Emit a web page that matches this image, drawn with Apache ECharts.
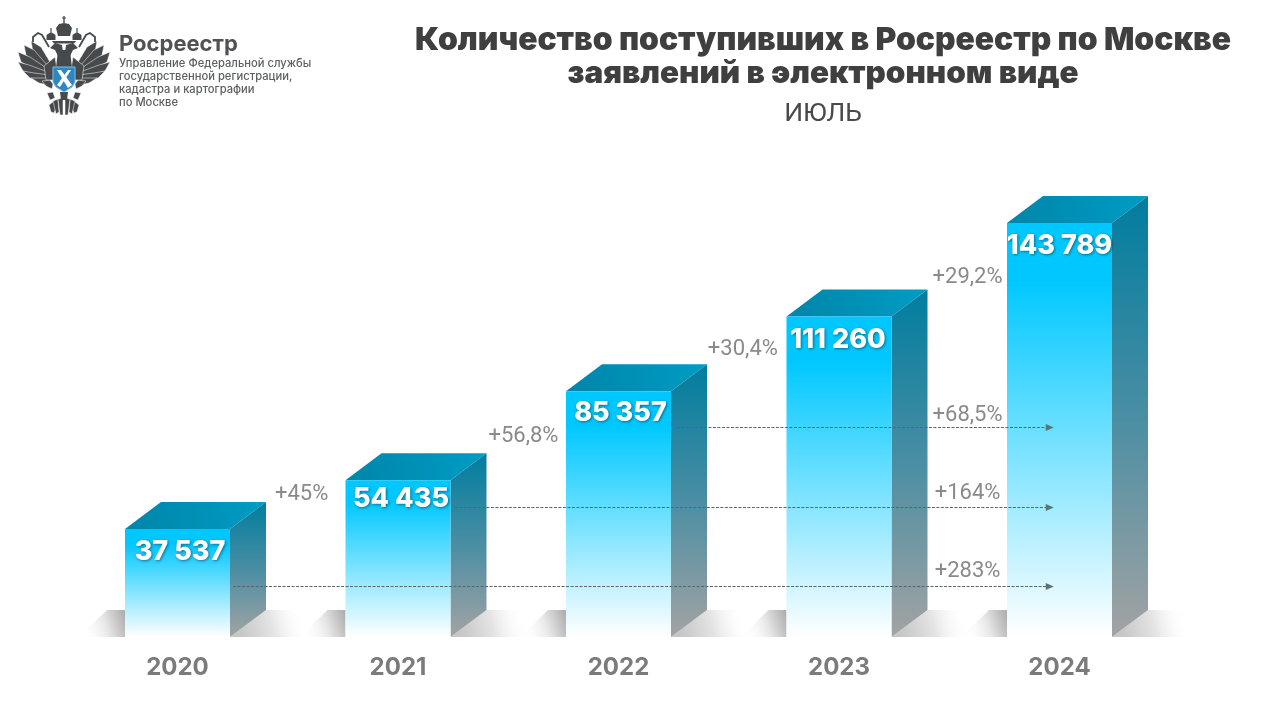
<!DOCTYPE html>
<html><head><meta charset="utf-8">
<style>html,body{margin:0;padding:0;background:#fff}#c{width:1280px;height:720px}</style>
<script src="https://cdn.jsdelivr.net/npm/echarts@6/dist/echarts.min.js"></script>
</head><body><div id="c"></div>
<script>
const years = ['2020','2021','2022','2023','2024'];
const requests = [37537, 54435, 85357, 111260, 143789];
const valueLabels = ['37 537','54 435','85 357','111 260','143 789'];
const growthX = [0.563, 1.569, 2.564, 3.583, 3.583, 3.583, 3.583];
const growthY = [49400, 69500, 99700, 124700, 77000, 49700, 22700];
const growthLabels = ['+45%','+56,8%','+30,4%','+29,2%','+68,5%','+164%','+283%'];
const arrowFrom = [0.252, 1.258, 2.265];
const arrowTo = [3.974, 3.974, 3.974];
const arrowLevel = [17700, 45100, 72900];

const BAR_W = 105, DX = 36, DY = 27;
const LABEL_SHIFT = [2.5, 3, 2, -1, 0];
const LABEL_DROP = [23, 19, 22, 23, 23];
const grad = (x, y, x2, y2, a, b, extra) => ({type:'linear',x,y,x2,y2,colorStops:[{offset:0,color:a}].concat(extra||[],[{offset:1,color:b}])});

function renderShadow(params, api){
  const c = api.coord([api.value(0), 0]);
  const l = c[0]-BAR_W/2, r = c[0]+BAR_W/2, y = c[1];
  return {type:'group',silent:true,children:[
    {type:'polygon',shape:{points:[[l-46,y],[l,y],[l,y-DY],[l-18,y-DY]]},
      style:{fill:{type:'linear',x:0.05,y:0.8,x2:1,y2:0.25,colorStops:[{offset:0,color:'rgba(255,255,255,0)'},{offset:0.55,color:'#e6e6e6'},{offset:1,color:'#b0b0b0'}]}}},
    {type:'polygon',shape:{points:[[r,y],[r+DX,y-DY],[r+92,y-DY],[r+72,y]]},
      style:{fill:{type:'linear',x:0.1,y:0.8,x2:0.8,y2:0.2,colorStops:[{offset:0,color:'#c6c6c6'},{offset:0.5,color:'#e4e4e4'},{offset:1,color:'rgba(255,255,255,0)'}]}}}
  ]};
}
function renderBar(params, api){
  const idx = api.value(0);
  const top = api.coord([idx, api.value(1)]);
  const base = api.coord([idx, 0]);
  const l = top[0]-BAR_W/2, r = top[0]+BAR_W/2, t = top[1], b = base[1];
  return {type:'group',children:[
    {type:'polygon',shape:{points:[[l,t],[r,t],[r+DX,t-DY],[l+DX,t-DY]]},
      style:{fill:grad(0,1,1,0,'#0085a9','#009cc4')}},
    {type:'polygon',shape:{points:[[r,t],[r+DX,t-DY],[r+DX,b-DY],[r,b]]},
      style:{fill:grad(0,0,0,1,'#007d9f','#a3a3a3',[{offset:0.5,color:'#4a8ea3'}])}},
    {type:'rect',shape:{x:l,y:t,width:BAR_W,height:b-t},
      style:{fill:grad(0,0,0,1,'#00c8ff','#ffffff',[{offset:0.14,color:'#00c8ff'}])}},
    {type:'text',style:{x:top[0]+LABEL_SHIFT[idx],y:t+LABEL_DROP[idx],text:valueLabels[idx],align:'center',verticalAlign:'middle',
      fill:'#fff',font:'800 27px Inter, Roboto, sans-serif',
      textShadowColor:'rgba(0,0,0,0.45)',textShadowBlur:3,textShadowOffsetX:1,textShadowOffsetY:1}}
  ]};
}
function renderGrowth(params, api){
  const p = api.coord([api.value(0), api.value(1)]);
  return {type:'text',silent:true,style:{x:p[0],y:p[1],text:growthLabels[params.dataIndex],align:'center',verticalAlign:'middle',
    fill:'#8a8a8a',font:'400 22px Roboto, sans-serif'}};
}
function renderArrow(params, api){
  const a = api.coord([api.value(0), api.value(2)]);
  const b = api.coord([api.value(1), api.value(2)]);
  const y = Math.round(a[1])+0.5;
  return {type:'group',silent:true,children:[
    {type:'line',shape:{x1:a[0],y1:y,x2:b[0]-7,y2:y},style:{stroke:'#5c6468',lineWidth:1,lineDash:[3,1.5]}},
    {type:'polygon',shape:{points:[[b[0],y],[b[0]-8,y-3.6],[b[0]-8,y+3.6]]},style:{fill:'#5f7278'}}
  ]};
}

// ---- logo emblem (decoration only) ----
const DARK = '#474a4c', MX = 64;
const mirror = pts => pts.map(p => [2*MX-p[0], p[1]]);
const wingShapes = [
  [[31,41],[41,47],[50,62],[44,66],[33,52]],
  [[24,45],[34,50],[48,66],[42,70],[26,55]],
  [[18,52],[30,57],[48,69],[41,73],[21,62]],
  [[18,62],[29,65],[48,72],[41,77],[23,71]],
  [[23,71],[34,73],[50,75],[44,81],[30,78]],
  [[31,78],[42,78],[52,78],[48,85],[39,83]],
  [[42,81],[50,80],[53,84],[52,89],[46,86]],
  [[44,66],[55,57],[57,70],[53,80],[46,80]]
];
const tail = [
  [[49,105],[54,101],[56,108],[54,113],[51,112]],
  [[53,101],[58,99],[59,112],[56,114]],
  [[58,99],[63,98],[63,115],[60,115]],
  [[47,93],[53,92],[55,98],[50,100]]
];
const emblem = [];
wingShapes.concat(tail).forEach(p => {
  emblem.push({type:'polygon',shape:{points:p},style:{fill:DARK,stroke:'#fff',lineWidth:0.5}});
  emblem.push({type:'polygon',shape:{points:mirror(p)},style:{fill:DARK,stroke:'#fff',lineWidth:0.5}});
});
const claw = [[49,47],[42,35],[38,33],[33,37],[33,42]];
const head = [[50,48],[55,43],[62,45],[63,52],[58,56],[55,50]];
[claw, mirror(claw)].forEach(p => emblem.push({type:'polyline',shape:{points:p},style:{stroke:DARK,lineWidth:1.8,fill:null}}));
[head, mirror(head)].forEach(p => emblem.push({type:'polygon',shape:{points:p},style:{fill:DARK}}));
emblem.push({type:'polygon',shape:{points:[[58,50],[70,50],[72,68],[56,68]]},style:{fill:DARK}});
emblem.push({type:'polygon',shape:{points:[[60,92],[68,92],[67,100],[61,100]]},style:{fill:DARK}});
emblem.push({type:'polygon',shape:{points:[[52,41],[76,41],[74,43.5],[54,43.5]]},style:{fill:DARK}});
[[51,37],[77,37]].forEach(c=>{
  emblem.push({type:'polygon',shape:{points:[[c[0]-4.5,c[1]+3],[c[0]-4.5,c[1]-2],[c[0],c[1]-5],[c[0]+4.5,c[1]-2],[c[0]+4.5,c[1]+3]]},style:{fill:DARK}});
  emblem.push({type:'line',shape:{x1:c[0],y1:c[1]-5,x2:c[0],y2:c[1]-9},style:{stroke:DARK,lineWidth:1.2}});
});
emblem.push({type:'polygon',shape:{points:[[58,36],[56,28],[59,24],[64,23],[69,24],[72,28],[70,36]]},style:{fill:DARK}});
emblem.push({type:'line',shape:{x1:64,y1:16,x2:64,y2:23},style:{stroke:DARK,lineWidth:1.4}});
emblem.push({type:'line',shape:{x1:62,y1:18,x2:66,y2:18},style:{stroke:DARK,lineWidth:1}});
emblem.push({type:'polygon',shape:{points:[[53,67],[75,67],[75,82],[72,87],[64,92],[56,87],[53,82]]},style:{fill:'#2f86c4',stroke:'#7cc0ea',lineWidth:1}});
emblem.push({type:'polygon',shape:{points:[[57,70],[61,70],[72,85],[68,88]]},style:{fill:'#fff'}});
emblem.push({type:'polygon',shape:{points:[[68,70],[71,70],[60,87],[57,85]]},style:{fill:'#fff'}});

const logoLines = ['Управление Федеральной службы','государственной регистрации,','кадастра и картографии','по Москве'];
const logoText = logoLines.map((t,i)=>({type:'text',left:119,top:58.5+i*13,
  style:{text:t,fill:'#5c5f61',font:'500 11.2px Inter, Roboto, sans-serif'}}));

const chart = echarts.init(document.getElementById('c'));
chart.setOption({
  animation:false,
  backgroundColor:'#fff',
  title:[
    {text:'Количество поступивших в Росреестр по Москве',left:818,top:19,textAlign:'center',
      textStyle:{fontFamily:'Inter, Roboto, sans-serif',fontWeight:900,fontSize:31.8,color:'#3f3f3f'}},
    {text:'заявлений в электронном виде',left:818,top:53,textAlign:'center',
      textStyle:{fontFamily:'Inter, Roboto, sans-serif',fontWeight:900,fontSize:31.4,color:'#3f3f3f'}},
    {text:'ИЮЛЬ',left:818,top:96,textAlign:'center',
      textStyle:{fontFamily:'Roboto, sans-serif',fontWeight:400,fontSize:26.5,color:'#4a4a4a'}}
  ],
  graphic:[
    {type:'group',left:0,top:0,bounding:'raw',silent:true,children:emblem},
    {type:'text',left:119,top:33,style:{text:'Росреестр',fill:'#505355',font:'700 22px Inter, Roboto, sans-serif'}}
  ].concat(logoText),
  grid:{left:67.25,width:1102.5,top:205,height:432,containLabel:false},
  xAxis:[
    {type:'category',data:years,axisLine:{show:false},axisTick:{show:false},
      axisLabel:{margin:19,color:'#7b7b7b',fontSize:24,fontWeight:700,fontFamily:'Inter, Roboto, sans-serif'}},
    {type:'value',min:-0.5,max:4.5,show:false}
  ],
  yAxis:{type:'value',min:0,max:150000,show:false},
  series:[
    {type:'custom',xAxisIndex:0,renderItem:renderShadow,data:years.map((y,i)=>[i,0]),z:1,silent:true},
    {type:'custom',xAxisIndex:0,renderItem:renderBar,data:requests.map((v,i)=>[i,v]),z:2,encode:{x:0,y:1}},
    {type:'custom',xAxisIndex:1,renderItem:renderArrow,data:arrowLevel.map((v,i)=>[arrowFrom[i],arrowTo[i],v]),z:3,silent:true,encode:{x:[0,1],y:2}},
    {type:'custom',xAxisIndex:1,renderItem:renderGrowth,data:growthY.map((v,i)=>[growthX[i],v]),z:4,silent:true,encode:{x:0,y:1}}
  ]
});
</script></body></html>
